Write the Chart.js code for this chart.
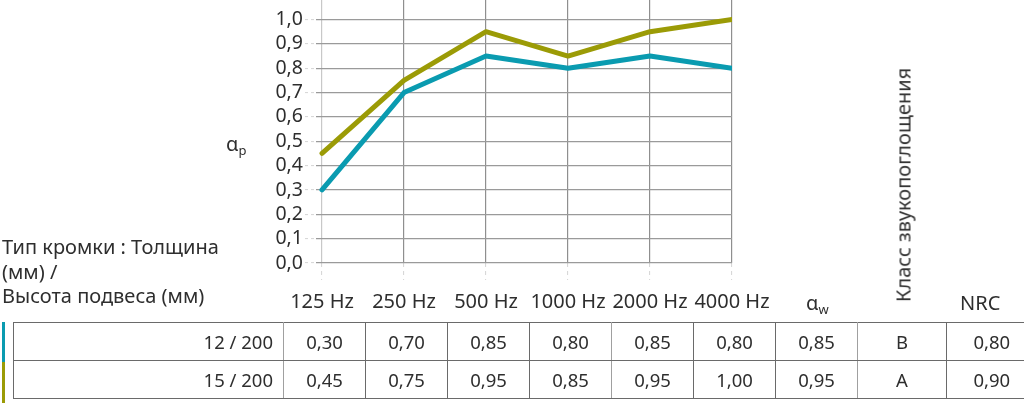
<!DOCTYPE html>
<html><head><meta charset="utf-8">
<script src="https://cdn.jsdelivr.net/npm/chart.js@4/dist/chart.umd.min.js"></script>
<style>
html,body{margin:0;padding:0;background:#fff;width:1024px;height:407px;overflow:hidden;font-family:"Noto Sans",sans-serif;color:#2e2e2e;}
#wrap{position:relative;width:1024px;height:407px;overflow:hidden;}
canvas{position:absolute;left:0;top:0;}
.t{position:absolute;white-space:nowrap;font-size:20px;color:#2e2e2e;}
table{position:absolute;left:13px;top:322px;border-collapse:collapse;table-layout:fixed;width:1023px;}
td{border:1.5px solid #6a6a6a;height:37px;padding:0;text-align:center;font-size:18.5px;color:#2e2e2e;}
td.first{text-align:right;padding-right:10px;}
.bar{position:absolute;left:2px;width:3px;}
</style></head>
<body><div id="wrap">
<canvas id="c" width="1024" height="407"></canvas>
<div class="t" style="left:2px;top:235px;line-height:24.5px;">Тип кромки : Толщина<br>(мм) /<br>Высота подвеса (мм)</div>
<div class="t" style="left:226px;top:130px;">α<sub style="font-size:13px;vertical-align:-4px;">p</sub></div>
<div class="t" style="left:806px;top:289px;">α<sub style="font-size:13px;vertical-align:-4px;">w</sub></div>
<div class="t" style="left:903px;top:185px;transform:translate(-50%,-50%) rotate(-90deg);">Класс звукопоглощения</div>
<div class="t" style="left:960px;top:289px;">NRC</div>
<div class="bar" style="top:322px;height:40px;background:#0A9BB0"></div>
<div class="bar" style="top:362px;height:41px;background:#9B9B06"></div>
<table id="tbl"></table>
</div>
<script>
const freqLabels = ["125 Hz","250 Hz","500 Hz","1000 Hz","2000 Hz","4000 Hz"];
const rowNames = ["12 / 200","15 / 200"];
const series1 = [0.30,0.70,0.85,0.80,0.85,0.80];
const series2 = [0.45,0.75,0.95,0.85,0.95,1.00];
const alphaW = [0.85,0.95];
const absClass = ["B","A"];
const nrc = [0.80,0.90];
const colors = ["#0A9BB0","#9B9B06"];
const yTicks = [0,0.1,0.2,0.3,0.4,0.5,0.6,0.7,0.8,0.9,1.0];

const fmt2 = v => v.toFixed(2).replace('.',',');
const fmt1 = v => v.toFixed(1).replace('.',',');

// table
const widths = [270,82,82,82,82,82,82,82,89,90];
const tbl = document.getElementById('tbl');
const cg = document.createElement('colgroup');
widths.forEach(w=>{const c=document.createElement('col');c.style.width=w+'px';cg.appendChild(c);});
tbl.appendChild(cg);
[series1,series2].forEach((s,i)=>{
  const tr=document.createElement('tr');
  const cells=[rowNames[i],...s.map(fmt2),fmt2(alphaW[i]),absClass[i],fmt2(nrc[i])];
  cells.forEach((txt,j)=>{const td=document.createElement('td');td.textContent=txt;if(j===0){td.className='first';}
    if(j===1||j===5||j===8)td.style.borderLeftColor='#a0a0a0';
    td.style.borderRightColor = (j===0||j===4||j===7)?'#a0a0a0':'#6a6a6a';
    if(j===cells.length-1)td.style.borderRight='none';
    tr.appendChild(td);});
  tbl.appendChild(tr);
});

const toPts = s => s.map((v,i)=>({x:i,y:v}));
Chart.defaults.font.family = '"Noto Sans", sans-serif';
Chart.defaults.color = '#2e2e2e';
new Chart(document.getElementById('c'),{
  type:'line',
  data:{datasets:[
    {data:toPts(series1),borderColor:colors[0],borderWidth:5,pointRadius:0,borderCapStyle:'round',borderJoinStyle:'round',tension:0},
    {data:toPts(series2),borderColor:colors[1],borderWidth:5,pointRadius:0,borderCapStyle:'round',borderJoinStyle:'round',tension:0}
  ]},
  options:{
    responsive:false,animation:false,
    layout:{padding:{left:0,right:292,top:0,bottom:0}},
    plugins:{legend:{display:false},tooltip:{enabled:false}},
    scales:{
      x:{type:'linear',min:-6/82,max:5,
        afterBuildTicks:s=>{s.ticks=freqLabels.map((_,i)=>({value:i}));},
        afterFit:s=>{s.height=144;s.paddingLeft=0;s.paddingRight=0;},
        border:{display:false},
        grid:{color:ctx=>ctx.index===0?'#c8c8c8':'#8f8f8f',lineWidth:1.2,tickLength:17,tickColor:'#d4d4d4',tickBorderDash:[4,4],tickWidth:1},
        ticks:{padding:10,font:{size:20},color:'#2e2e2e',maxRotation:0,autoSkip:false,callback:(v)=>freqLabels[v]}
      },
      y:{min:0,max:263/243.5,
        afterBuildTicks:s=>{s.ticks=yTicks.map(v=>({value:v}));},
        afterFit:s=>{s.width=316;s.paddingTop=0;s.paddingBottom=0;},
        border:{display:false},
        grid:{color:'#9a9a9a',lineWidth:1.2,tickLength:11,tickColor:'#d4d4d4',tickBorderDash:[3,3],tickWidth:1},
        ticks:{padding:2,font:{size:19.5},color:'#2e2e2e',autoSkip:false,callback:v=>fmt1(v)}
      }
    }
  }
});
</script>
</body></html>
